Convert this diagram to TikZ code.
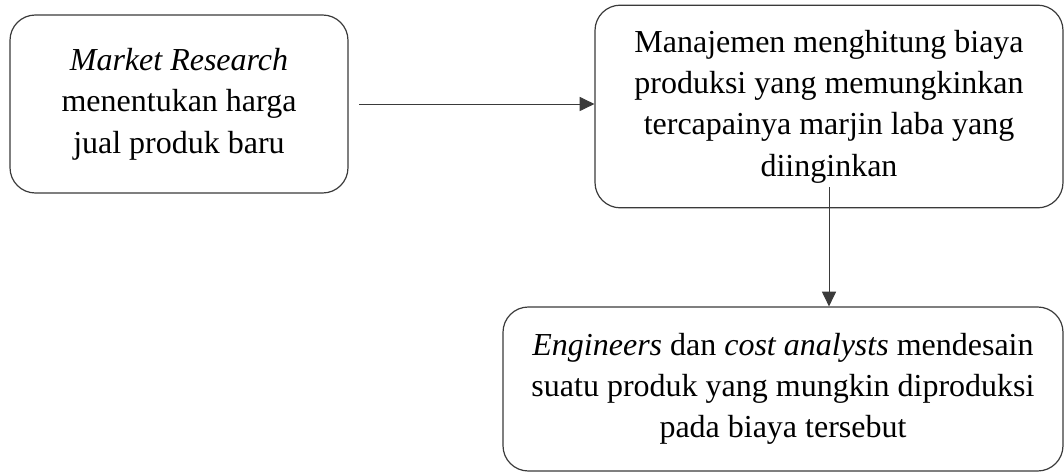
\documentclass[tikz,border=0pt]{standalone}
\usepackage{fontspec}
\setmainfont{Liberation Serif}
\usetikzlibrary{arrows.meta}
\definecolor{edge}{HTML}{3A3A3A}

\begin{document}
\begin{tikzpicture}[
          x=0.75pt, y=0.75pt,
          box/.style = {draw=edge, line width=0.9pt, rounded corners=19pt, inner sep=0pt,
                        align=center, font=\fontsize{24}{31}\selectfont},
          arr/.style = {-{Triangle[length=11pt,width=10.5pt]}, draw=edge, line width=0.7pt},
        ]
        \useasboundingbox (0,0) rectangle (1064,472);
        \node[box, minimum width=253.5pt, minimum height=133.5pt] (riset) at (179,368)
          {\textit{Market Research}\\menentukan harga\\jual produk baru};
        \node[box, minimum width=351pt, minimum height=152pt] (biaya) at (829,365.5)
          {Manajemen menghitung biaya\\produksi yang memungkinkan\\tercapainya marjin laba yang\\diinginkan};
        \node[box, minimum width=420pt, minimum height=123pt] (desain) at (783,83)
          {\textit{Engineers} dan \textit{cost analysts} mendesain\\suatu produk yang mungkin diproduksi\\pada biaya tersebut};

        \draw[arr, shorten <=8pt] (riset.east) -- (riset.east -| biaya.west);
        \draw[arr] ([yshift=16pt]biaya.south) -- (biaya.south |- desain.north);
      \end{tikzpicture}
\end{document}
